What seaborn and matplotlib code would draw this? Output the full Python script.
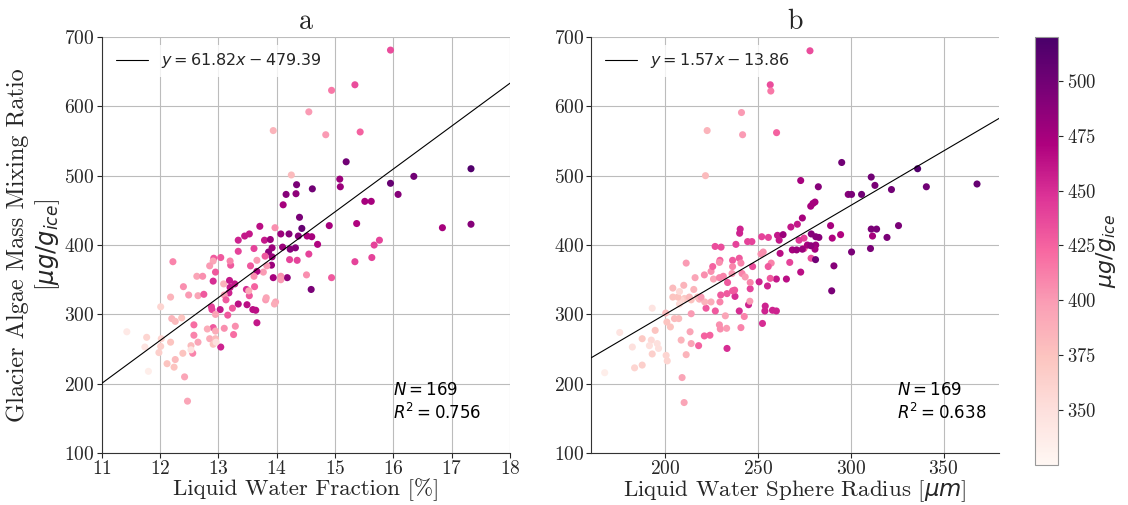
import numpy as np
import pandas as pd
import matplotlib
matplotlib.use("Agg")
import matplotlib.pyplot as plt
import seaborn as sns
from matplotlib.colors import Normalize
from matplotlib.cm import ScalarMappable

# painel a: fracao de agua liquida x razao de mistura de algas
lwf = [15.95, 15.34, 14.94, 14.55, 13.94, 14.84, 15.43, 14.25, 15.19, 15.08,
       15.09, 15.95, 16.35, 17.33, 16.08, 14.34, 14.16, 14.33, 14.61, 15.51,
       15.62, 14.11, 14.39, 14.43, 14.90, 15.37, 16.84, 17.33, 15.76, 15.67,
       15.63, 15.34, 14.94, 14.59, 14.51, 14.55, 14.70, 14.60, 14.52, 14.37,
       14.21, 14.07, 13.97, 13.71, 13.53, 13.45, 13.34, 13.79, 13.89, 13.34,
       13.61, 13.86, 13.92, 13.92, 13.91, 14.10, 14.23, 14.32, 14.22, 14.35,
       14.18, 13.94, 14.07, 14.07, 13.83, 13.77, 13.66, 13.61, 13.55, 13.66,
       13.80, 13.53, 13.48, 13.52, 13.34, 13.49, 13.59, 13.64, 13.66, 13.81,
       13.82, 13.98, 13.96, 13.21, 13.20, 13.04, 12.92, 12.91, 12.85, 12.95,
       12.91, 13.09, 13.19, 13.28, 13.20, 13.18, 13.10, 13.13, 13.24, 13.03,
       12.88, 12.89, 12.95, 13.16, 13.29, 13.10, 13.26, 13.04, 12.91, 12.95,
       12.81, 12.85, 12.95, 12.91, 12.65, 12.53, 12.56, 12.58, 12.58, 12.49,
       12.65, 12.63, 12.73, 12.75, 12.22, 12.40, 12.18, 12.01, 12.20, 12.26,
       12.37, 12.18, 12.01, 11.98, 12.02, 12.12, 12.26, 12.24, 12.39, 12.42,
       12.47, 11.77, 11.74, 11.43, 11.80, 12.53, 12.96, 13.62]
algae_a = [681, 631, 623, 592, 565, 559, 563, 501, 520, 495,
           484, 489, 499, 510, 473, 487, 473, 474, 481, 463,
           463, 458, 440, 424, 428, 431, 425, 430, 407, 400,
           382, 376, 353, 336, 357, 387, 401, 412, 413, 413,
           416, 416, 425, 427, 416, 413, 407, 407, 408, 391,
           395, 390, 396, 383, 371, 397, 394, 396, 379, 378,
           353, 353, 355, 350, 370, 361, 362, 355, 370, 378,
           384, 327, 336, 334, 315, 314, 307, 306, 288, 321,
           324, 318, 315, 371, 377, 382, 381, 377, 370, 361,
           348, 344, 349, 344, 339, 331, 328, 321, 309, 307,
           311, 307, 300, 299, 283, 280, 271, 253, 281, 276,
           279, 265, 265, 257, 260, 255, 244, 270, 285, 328,
           327, 355, 355, 329, 376, 340, 325, 311, 294, 290,
           295, 260, 254, 245, 265, 229, 235, 224, 244, 210,
           175, 267, 253, 275, 218, 249, 260, 340]
colour_a = [435, 435, 415, 400, 385, 400, 425, 380, 500, 480,
            480, 505, 500, 515, 490, 495, 490, 485, 500, 475,
            475, 475, 495, 505, 475, 470, 475, 490, 440, 440,
            440, 440, 430, 495, 405, 440, 470, 475, 470, 490,
            490, 480, 405, 465, 460, 460, 455, 460, 480, 440,
            440, 485, 480, 480, 480, 480, 490, 490, 440, 440,
            485, 475, 405, 400, 400, 400, 470, 405, 430, 400,
            430, 430, 450, 390, 465, 465, 465, 465, 460, 400,
            395, 395, 390, 430, 410, 430, 430, 395, 400, 430,
            450, 385, 460, 460, 460, 455, 400, 430, 430, 460,
            440, 440, 395, 430, 405, 405, 420, 455, 430, 390,
            390, 390, 380, 375, 395, 380, 410, 410, 420, 400,
            395, 395, 405, 430, 410, 405, 385, 360, 385, 380,
            375, 375, 365, 365, 360, 375, 380, 375, 375, 395,
            395, 360, 345, 340, 335, 345, 350, 425]

# painel b: raio da esfera de agua liquida
radius = [278.0, 256.6, 256.9, 241.1, 222.6, 241.7, 260.0, 221.7, 295.1, 311.0,
          336.0, 368.0, 313.0, 340.7, 273.0, 282.5, 298.6, 300.4, 305.8, 321.9,
          278.4, 279.6, 280.7, 273.9, 267.7, 271.2, 289.1, 278.7, 281.1, 282.8,
          240.4, 240.1, 294.5, 290.0, 311.0, 313.9, 311.7, 319.5, 325.7, 244.4,
          246.7, 252.0, 255.6, 260.5, 261.4, 263.5, 238.1, 226.9, 230.1, 268.5,
          270.8, 274.8, 276.6, 281.1, 280.7, 251.6, 252.8, 261.9, 267.1, 278.6,
          281.0, 290.9, 300.4, 310.6, 273.0, 265.3, 259.9, 256.6, 255.1, 250.6,
          289.7, 245.8, 244.9, 253.9, 253.7, 257.8, 259.9, 252.4, 239.9, 242.6,
          237.6, 237.4, 245.8, 245.6, 233.6, 229.9, 229.5, 232.4, 227.0, 222.0,
          224.7, 221.3, 218.4, 217.5, 214.0, 214.0, 210.4, 208.6, 207.7, 206.8,
          204.1, 207.7, 204.1, 210.0, 215.4, 216.1, 211.3, 221.1, 224.7, 225.6,
          226.0, 229.2, 231.3, 229.5, 236.3, 239.9, 236.3, 240.8, 236.0, 241.4,
          243.1, 247.1, 257.1, 255.5, 240.8, 229.2, 229.7, 233.1, 233.3, 213.4,
          214.0, 218.0, 208.6, 211.3, 209.1, 210.2, 221.1, 224.1, 200.9, 202.8,
          200.5, 201.1, 193.0, 194.6, 187.6, 192.5, 191.5, 195.7, 196.4, 193.0,
          187.6, 183.5, 182.3, 175.5, 167.4, 205.0, 207.3, 200.3, 229.2, 274.8,
          272.1, 273.9, 278.5, 233.3, 236.3, 219.3, 213.0]
algae_b = [680, 631, 622, 591, 565, 559, 562, 500, 519, 498,
           510, 488, 486, 484, 493, 484, 473, 473, 473, 480,
           456, 460, 462, 439, 426, 430, 428, 416, 412, 411,
           423, 417, 415, 410, 423, 423, 413, 411, 428, 405,
           405, 412, 411, 414, 407, 415, 401, 398, 397, 393,
           393, 395, 400, 400, 394, 387, 390, 388, 375, 381,
           379, 370, 390, 395, 361, 351, 351, 352, 341, 347,
           334, 337, 314, 312, 305, 306, 305, 287, 305, 297,
           326, 335, 346, 319, 346, 328, 318, 298, 305, 309,
           318, 318, 322, 325, 301, 321, 323, 321, 315, 325,
           325, 333, 338, 342, 336, 353, 374, 357, 362, 369,
           351, 353, 355, 378, 378, 381, 369, 374, 359, 359,
           354, 369, 374, 369, 281, 285, 279, 280, 251, 275,
           258, 255, 263, 242, 209, 173, 269, 270, 289, 282,
           241, 233, 309, 277, 265, 263, 255, 258, 251, 243,
           227, 223, 253, 274, 216, 294, 294, 302, 375, 410,
           407, 394, 399, 330, 334, 325, 325]
colour_b = [435, 435, 415, 400, 385, 400, 425, 380, 500, 500,
            515, 505, 495, 500, 475, 490, 490, 495, 500, 500,
            475, 475, 475, 475, 460, 460, 475, 490, 490, 490,
            455, 455, 470, 470, 495, 495, 475, 495, 495, 440,
            440, 440, 440, 460, 460, 480, 440, 435, 435, 475,
            480, 430, 475, 480, 475, 405, 405, 465, 440, 435,
            500, 490, 495, 495, 465, 465, 460, 430, 455, 455,
            495, 440, 455, 455, 455, 455, 455, 450, 450, 410,
            450, 430, 410, 400, 430, 430, 410, 395, 430, 430,
            390, 385, 385, 380, 400, 375, 370, 360, 355, 375,
            375, 355, 380, 385, 385, 395, 400, 405, 405, 425,
            395, 410, 410, 425, 430, 430, 410, 410, 400, 410,
            400, 435, 410, 430, 410, 405, 405, 400, 450, 395,
            395, 425, 385, 385, 395, 395, 425, 425, 375, 375,
            360, 360, 345, 375, 370, 355, 350, 350, 350, 365,
            365, 360, 350, 345, 335, 380, 380, 380, 405, 440,
            445, 480, 485, 430, 430, 400, 380]

fit_a = (61.82, -479.39)
fit_b = (1.57, -13.86)
n_obs = 169
r2_a = 0.756
r2_b = 0.638
cmin, cmax = 325, 520

sns.set_style("ticks")
plt.rcParams["font.family"] = ["cmr10", "DejaVu Sans"]
plt.rcParams["mathtext.fontset"] = "dejavusans"
plt.rcParams["axes.formatter.use_mathtext"] = True
plt.rcParams["axes.edgecolor"] = "0.2"

tab_a = pd.DataFrame({"x": lwf, "y": algae_a, "c": colour_a})
tab_b = pd.DataFrame({"x": radius, "y": algae_b, "c": colour_b})

fig = plt.figure(figsize=(11.28, 5.05), dpi=100)
ax1 = fig.add_axes([0.0902, 0.1026, 0.362, 0.8243])
ax2 = fig.add_axes([0.5239, 0.1026, 0.362, 0.8243])
cax = fig.add_axes([0.9176, 0.079, 0.0201, 0.848])

paineis = [
    (ax1, tab_a, fit_a, r2_a, (11, 18), range(11, 19), 16.0, "a",
     "Liquid Water Fraction [%]"),
    (ax2, tab_b, fit_b, r2_b, (160, 380), [200, 250, 300, 350], 325, "b",
     r"Liquid Water Sphere Radius [$\mu m$]"),
]

for ax, tab, fit, r2, xlim, xticks, xtxt, titulo, xlabel in paineis:
    ax.grid(True, color="#bcbcbc", linewidth=0.8)
    ax.set_axisbelow(True)
    sns.scatterplot(data=tab, x="x", y="y", hue="c", palette="RdPu",
                    hue_norm=(cmin, cmax), s=26, linewidth=0, legend=False,
                    ax=ax, zorder=3)
    m, b = fit
    ax.axline((0, b), slope=m, color="black", linewidth=0.8, zorder=4,
              label=rf"$y = {m:.2f}x - {abs(b):.2f}$")
    ax.set_xlim(*xlim)
    ax.set_ylim(100, 700)
    ax.set_xticks(list(xticks))
    ax.set_yticks(range(100, 701, 100))
    ax.tick_params(labelsize=14, pad=1.5)
    ax.set_xlabel(xlabel, fontsize=16.5, labelpad=0)
    ax.set_ylabel("")
    ax.set_title(titulo, fontsize=20)
    ax.text(xtxt, 145, f"$N = {n_obs}$\n$R^2 = {r2:.3f}$", fontsize=12,
            va="bottom", ha="left", color="black", zorder=5)
    ax.legend(loc="upper left", fontsize=11.5, frameon=True, edgecolor="none",
              framealpha=0.8)
    sns.despine(ax=ax)

ax1.set_ylabel("Glacier Algae Mass Mixing Ratio\n" + r"[$\mu g/g_{ice}$]",
               fontsize=17.5, labelpad=2)

sm = ScalarMappable(norm=Normalize(cmin, cmax), cmap="RdPu")
cb = fig.colorbar(sm, cax=cax)
cb.set_ticks(range(350, 501, 25))
cb.ax.tick_params(labelsize=13.5)
cb.outline.set_edgecolor("0.6")
cb.outline.set_linewidth(0.8)
cb.set_label(r"$\mu g/g_{ice}$", fontsize=16, labelpad=-2)

fig.savefig("out.png", dpi=100)
